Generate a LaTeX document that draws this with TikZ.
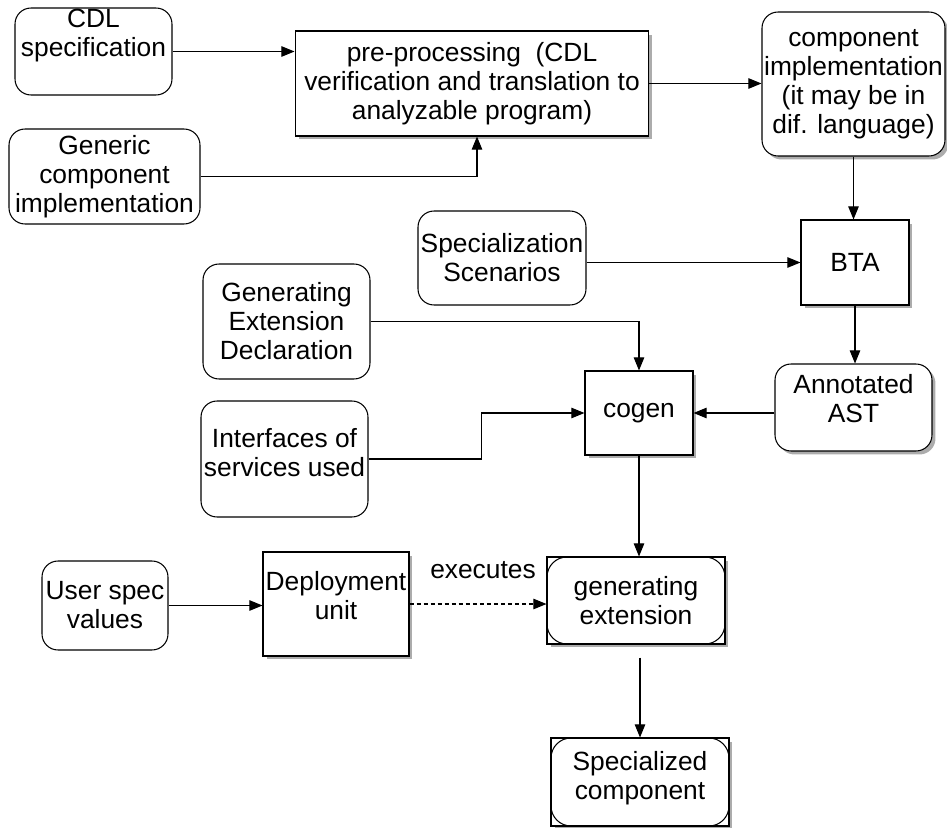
\documentclass[tikz,border=0pt]{standalone}
\usepackage{fontspec}
\setmainfont{Liberation Sans}
\usetikzlibrary{arrows.meta,shadows}

\newcommand{\lifttext}[2]{\raisebox{#1}[\height][\depth]{\begin{tabular}{@{}c@{}}#2\end{tabular}}}

\tikzset{
  box/.style={draw, fill=white, rectangle, inner sep=1pt, align=center},
  roundbox/.style={box, rounded corners=0.32cm},
  shadowed/.style={drop shadow={shadow xshift=0.07cm, shadow yshift=-0.07cm, fill=gray!65, opacity=1}},
  framedbox/.style={box, path picture={\draw[rounded corners=0.4cm] (path picture bounding box.south west) rectangle (path picture bounding box.north east);}},
  flow/.style={-{Triangle[length=7.5pt,width=6pt]}},
}

\begin{document}
\begin{tikzpicture}[x=0.02cm, y=-0.02cm, line width=0.6pt, font=\fontsize{15}{16.5}\selectfont]
                \useasboundingbox (0,0) rectangle (947,828);

                % inputs and pre-processing
                \node[roundbox, minimum width=3.14cm, minimum height=1.74cm] (cdl) at (93.5,51.5) {\lifttext{0.30cm}{CDL\\specification}};
                \node[roundbox, minimum width=3.82cm, minimum height=1.90cm] (generic) at (104.5,176.5) {Generic\\component\\implementation};
                \node[box, shadowed, minimum width=7.08cm, minimum height=2.10cm] (prep) at (472,83.5) {pre-processing~~(CDL\\verification and translation to\\analyzable program)};
                \node[roundbox, shadowed, minimum width=3.66cm, minimum height=2.88cm] (compimpl) at (853.5,84) {component\\implementation\\(it may be in\\dif. language)};

                % analysis
                \node[roundbox, minimum width=3.36cm, minimum height=1.88cm] (scen) at (502,258) {Specialization\\Scenarios};
                \node[box, shadowed, minimum width=2.16cm, minimum height=1.70cm] (bta) at (855,262.5) {BTA};
                \node[roundbox, shadowed, minimum width=3.14cm, minimum height=1.74cm] (ast) at (853.5,407.5) {\lifttext{0.1cm}{Annotated\\AST}};
                \node[roundbox, minimum width=3.34cm, minimum height=2.30cm] (ged) at (286.5,321.5) {Generating\\Extension\\Declaration};
                \node[roundbox, minimum width=3.34cm, minimum height=2.32cm] (intf) at (284.5,459) {\lifttext{0.06cm}{Interfaces of\\services used}};
                \node[box, shadowed, minimum width=2.16cm, minimum height=1.68cm] (cogen) at (639,413) {cogen};

                % deployment
                \node[roundbox, minimum width=2.52cm, minimum height=1.78cm] (user) at (105,605.5) {User spec\\values};
                \node[box, shadowed, minimum width=2.92cm, minimum height=2.08cm] (deploy) at (336,604) {\lifttext{0.1cm}{Deployment\\unit}};
                \node[framedbox, shadowed, minimum width=3.56cm, minimum height=1.74cm] (genext) at (636,600.5) {generating\\extension};
                \node[framedbox, shadowed, minimum width=3.56cm, minimum height=1.76cm] (spec) at (640,782) {\lifttext{0.06cm}{Specialized\\component}};
                \node (exec) at (483,570) {executes};

                % connectors
                \draw[flow] (cdl.east) -- (cdl.east -| prep.west);
                \draw[flow] (generic.east) -| ([xshift=0.1cm]prep.south);
                \draw[flow] (prep.east) -- (prep.east -| compimpl.west);
                \draw[flow] (compimpl.south) -- (compimpl.south |- bta.north);
                \draw[flow] (scen.east |- bta.west) -- (bta.west);
                \draw[flow] (bta.south) -- (bta.south |- ast.north);
                \draw[flow] (ged.east) -| (cogen.north);
                \draw[flow] (ast.west |- cogen.east) -- (cogen.east);
                \draw[flow] (intf.east) -- ++(113,0) |- (cogen.west);
                \draw[flow] (cogen.south) -- (cogen.south |- genext.north);
                \draw[flow] (user.east) -- (user.east -| deploy.west);
                \draw[flow, dash pattern=on 2.5pt off 1.5pt] (deploy.east) -- (deploy.east -| genext.west);
                \draw[flow, shorten <=0.26cm] (spec.north |- genext.south) -- (spec.north);
\end{tikzpicture}
\end{document}
